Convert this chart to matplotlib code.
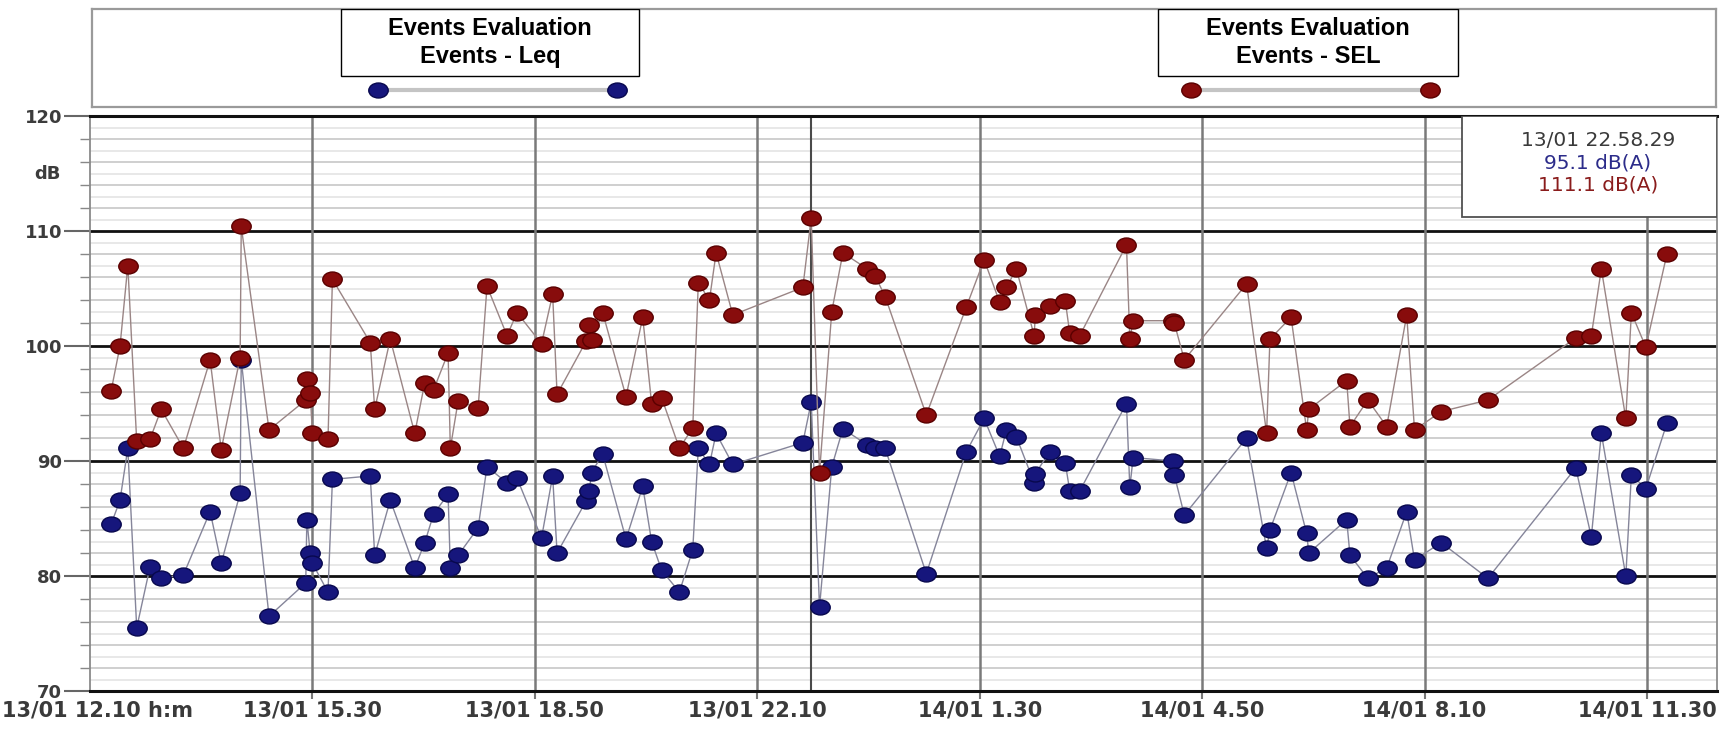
import numpy as np
import matplotlib
matplotlib.use("Agg")
import matplotlib.pyplot as plt
from matplotlib.path import Path
from matplotlib.patches import Rectangle

# event start times, minutes counted from 13/01 00:00
event_min = [749, 757, 764, 772, 784, 794, 814, 838, 848, 865,
             866, 891, 924, 925, 928, 930, 944, 948, 982, 986,
             1000, 1022, 1031, 1039, 1052, 1054, 1061, 1079, 1087, 1105,
             1114, 1136, 1146, 1150, 1176, 1179, 1181, 1191, 1212, 1227,
             1235, 1244, 1260, 1272, 1277, 1287, 1293, 1308, 1371, 1378.5,
             1386, 1397, 1407, 1429, 1436, 1445, 1482, 1518, 1534, 1548,
             1554, 1563, 1579, 1580, 1593, 1607, 1611, 1620, 1662, 1665,
             1668, 1704, 1705, 1714, 1770, 1788, 1791, 1810, 1824, 1826,
             1860, 1863, 1879, 1896, 1914, 1921, 1945, 1987, 2066, 2080,
             2089, 2111, 2116, 2129, 2148]

leq = [84.5, 86.6, 91.1, 75.5, 80.8, 79.8, 80.1, 85.6, 81.1, 87.2,
       98.8, 76.5, 79.4, 84.9, 82.0, 81.1, 78.6, 88.4, 88.7, 81.8,
       86.6, 80.7, 82.9, 85.4, 87.1, 80.7, 81.8, 84.2, 89.5, 88.1,
       88.5, 83.3, 88.7, 82.0, 86.5, 87.4, 89.0, 90.6, 83.2, 87.8,
       83.0, 80.5, 78.6, 82.3, 91.1, 89.7, 92.4, 89.7, 91.6, 95.1,
       77.3, 89.5, 92.8, 91.4, 91.1, 91.1, 80.2, 90.8, 93.7, 90.4,
       92.7, 92.1, 88.1, 88.9, 90.8, 89.8, 87.4, 87.4, 95.0, 87.7,
       90.3, 90.0, 88.8, 85.3, 92.0, 82.4, 84.0, 89.0, 83.7, 82.0,
       84.9, 81.8, 79.8, 80.7, 85.6, 81.4, 82.9, 79.8, 89.4, 83.4,
       92.4, 80.0, 88.8, 87.6, 93.3]

sel = [96.1, 100.0, 107.0, 91.7, 91.9, 94.5, 91.1, 98.8, 91.0, 99.0,
       110.4, 92.7, 95.3, 97.1, 95.9, 92.4, 91.9, 105.8, 100.3, 94.5,
       100.6, 92.4, 96.8, 96.2, 99.4, 91.1, 95.2, 94.6, 105.2, 100.9,
       102.9, 100.2, 104.5, 95.8, 100.4, 101.8, 100.5, 102.9, 95.6, 102.5,
       95.0, 95.5, 91.1, 92.9, 105.5, 104.0, 108.1, 102.7, 105.1, 111.1,
       89.0, 103.0, 108.1, 106.7, 106.1, 104.3, 94.0, 103.4, 107.5, 103.8,
       105.1, 106.7, 100.9, 102.7, 103.5, 103.9, 101.1, 100.9, 108.8, 100.6,
       102.2, 102.2, 102.0, 98.8, 105.4, 92.4, 100.6, 102.5, 92.7, 94.5,
       97.0, 93.0, 95.3, 93.0, 102.7, 92.7, 94.3, 95.3, 100.7, 100.9,
       106.7, 93.7, 102.9, 99.9, 108.0]

tick_min = [930, 1130, 1330, 1530, 1730, 1930, 2130]
tick_labels = ["13/01 15.30", "13/01 18.50", "13/01 22.10", "14/01 1.30",
               "14/01 4.50", "14/01 8.10", "14/01 11.30"]
start_label = "13/01 12.10 h:m"

cursor_min = 1378.5
cursor_lines = ["13/01 22.58.29", "95.1 dB(A)", "111.1 dB(A)"]

RED = "#880c0c"
RED_EDGE = "#5a0000"
BLUE = "#16167c"
BLUE_EDGE = "#08084e"

# slightly wide circle used as marker
circ = Path.unit_circle()
ell = Path(circ.vertices * np.array([1.3, 1.0]), circ.codes)

fig = plt.figure(figsize=(17.34, 7.33), dpi=100)
fig.patch.set_facecolor("white")

ax = fig.add_axes([90 / 1734, 1 - 691 / 733, 1627 / 1734, 575 / 733])
ax.set_xlim(730, 2193)
ax.set_ylim(70, 120)

# grid
for v in np.arange(71, 120, 1):
    if v % 10 == 0:
        continue
    col = "#c2c2c2" if v % 2 == 0 else "#e2e2e2"
    ax.axhline(v, color=col, lw=1.1, zorder=1)
for v in [80, 90, 100, 110]:
    ax.axhline(v, color="#111111", lw=2.0, zorder=2)
for t in tick_min:
    ax.axvline(t, color="#7a7a7a", lw=1.8, zorder=2)
ax.axvline(cursor_min, color="#4a4a4a", lw=1.5, zorder=2)

# series
ax.plot(event_min, leq, color="#85859a", lw=1.0, zorder=3,
        marker=ell, ms=14, mfc=BLUE, mec=BLUE_EDGE, mew=1)
ax.plot(event_min, sel, color="#9a8585", lw=1.0, zorder=4,
        marker=ell, ms=14, mfc=RED, mec=RED_EDGE, mew=1)

# cursor readout box
ax.add_patch(Rectangle((1964, 111.2), 2193 - 1964, 8.8, facecolor="white",
                       edgecolor="#505050", lw=1.3, zorder=6))
for txt, yv, col in zip(cursor_lines, [117.9, 115.9, 114.0],
                        ["#3a3a3a", "#2c2c8a", "#8a1c1c"]):
    ax.text(2086, yv, txt, ha="center", va="center", fontsize=14.5,
            color=col, family="DejaVu Sans", zorder=7)

# axes frame
for side in ["top", "bottom"]:
    ax.spines[side].set_color("#111111")
    ax.spines[side].set_linewidth(2.2)
for side in ["left", "right"]:
    ax.spines[side].set_color("#8a8a8a")
    ax.spines[side].set_linewidth(1.3)

ax.set_yticks([70, 80, 90, 100, 110, 120])
ax.set_yticks(np.arange(72, 120, 2), minor=True)
ax.tick_params(axis="y", which="major", length=19, width=1.5, color="#666666",
               pad=1, labelsize=13, labelcolor="#3c3c3c")
ax.tick_params(axis="y", which="minor", length=7, width=1.0, color="#888888")
for lab in ax.get_yticklabels():
    lab.set_fontweight("bold")
ax.text(-0.018, 115, "dB", transform=ax.get_yaxis_transform(), ha="right",
        va="center", fontsize=13, fontweight="bold", color="#3c3c3c")

ax.set_xticks(tick_min)
ax.set_xticklabels(tick_labels)
ax.tick_params(axis="x", length=6, width=1.5, color="#777777", pad=1,
               labelsize=15, labelcolor="#3a3a3a")
for lab in ax.get_xticklabels():
    lab.set_fontweight("bold")
ax.annotate(start_label, xy=(0, 0), xycoords="axes fraction",
            xytext=(-63, -7), textcoords="offset points", ha="left", va="top",
            fontsize=15, fontweight="bold", color="#3a3a3a")

# header panel with the two series captions
hdr = fig.add_axes([92 / 1734, 1 - 107 / 733, 1624 / 1734, 98 / 733])
hdr.set_xlim(0, 1)
hdr.set_ylim(0, 1)
hdr.set_xticks([])
hdr.set_yticks([])
for s in hdr.spines.values():
    s.set_color("#9a9a9a")
    s.set_linewidth(1.6)

captions = ["Events Evaluation\nEvents - Leq", "Events Evaluation\nEvents - SEL"]
box_x = [(0.1533, 0.3368), (0.6564, 0.8411)]
line_x = [(0.1761, 0.3233), (0.6767, 0.8239)]
cols = [(BLUE, BLUE_EDGE), (RED, RED_EDGE)]
for cap, (bx0, bx1), (lx0, lx1), (fc, ec) in zip(captions, box_x, line_x, cols):
    hdr.add_patch(Rectangle((bx0, 0.316), bx1 - bx0, 0.684, facecolor="white",
                            edgecolor="black", lw=1.0, zorder=3))
    hdr.text((bx0 + bx1) / 2, 0.66, cap, ha="center", va="center",
             fontsize=17, fontweight="bold", family="Liberation Sans",
             linespacing=1.25, zorder=4)
    hdr.plot([lx0, lx1], [0.173, 0.173], color="#c4c4c4", lw=3, zorder=2,
             marker=ell, ms=14, mfc=fc, mec=ec, mew=1)

fig.savefig("out.png", dpi=100, facecolor="white")
